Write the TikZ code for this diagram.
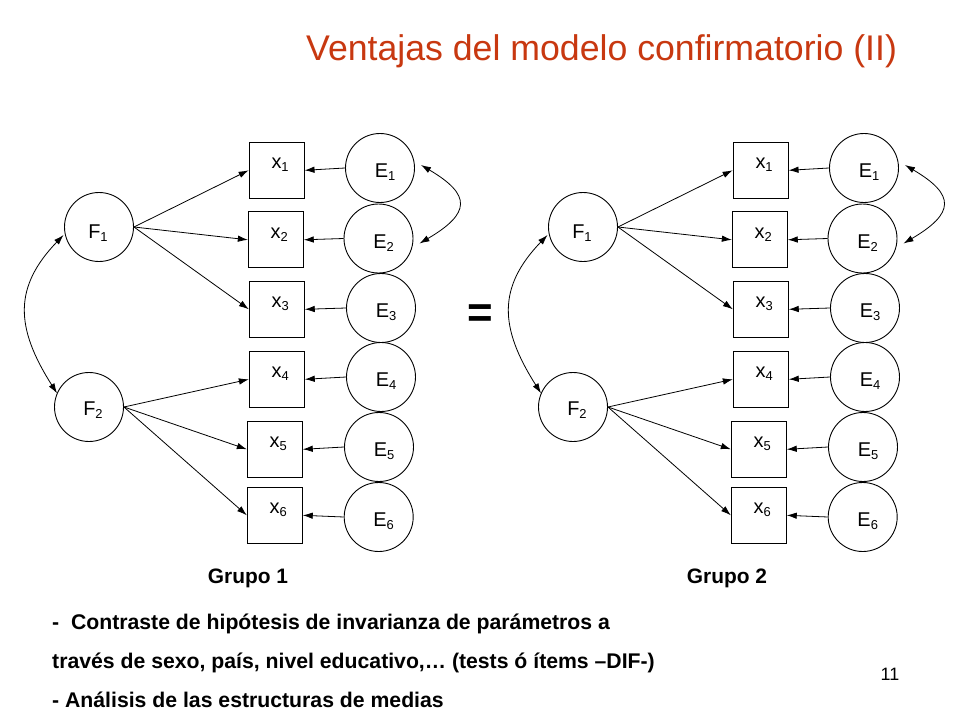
\documentclass[tikz,border=0pt]{standalone}
\usepackage{fontspec}
\setmainfont{Liberation Sans}
\usetikzlibrary{arrows.meta}
\definecolor{titlered}{RGB}{200,56,16}
\newcommand\lsub[1]{\raisebox{-3bp}{\fontsize{13}{13}\selectfont #1}}
\begin{document}
\begin{tikzpicture}[x=1bp,y=-1bp,
  lat/.style={circle,draw,line width=0.9bp,minimum size=69bp,inner sep=0pt},
  obs/.style={rectangle,draw,line width=0.9bp,minimum width=55bp,minimum height=56bp,inner sep=0pt},
  lbl/.style={inner sep=0pt,anchor=base,font=\fontsize{20}{20}\selectfont},
  arr/.style={-{Latex[length=10bp,width=6.5bp]},line width=0.8bp},
  dbl/.style={{Latex[length=10bp,width=6.5bp]}-{Latex[length=10bp,width=6.5bp]},line width=0.8bp},
  boldtxt/.style={inner sep=0pt,anchor=base west,font=\bfseries\fontsize{21.3}{21.3}\selectfont}]
\useasboundingbox (0,0) rectangle (960,720);
\fill[white] (0,0) rectangle (960,720);

% title
\node[inner sep=0pt,anchor=base west,text=titlered,font=\fontsize{35.8}{36}\selectfont] (title) at (306,61) {Ventajas del modelo confirmatorio (II)};

\foreach \g/\dx in {a/0,b/484}{
  % factors
  \node[lat] (\g F1) at (99+\dx,227) {};
  \node[lat] (\g F2) at (89+\dx,407) {};
  \node[lbl] (\g tF1) at (98+\dx,238) {F\lsub{1}};
  \node[lbl] (\g tF2) at (93+\dx,415) {F\lsub{2}};
  % observed
  \foreach \i/\bx/\by in {1/276.6/170.3,2/275.8/239.8,3/276.8/309.3,4/276.8/379.3,5/274.8/449.3,6/274.8/515.3}{
    \node[obs] (\g x\i) at (\bx+\dx,\by) {};
    \node[lbl] (\g tx\i) at (\bx+\dx+3.5,\by-1.5) {x\lsub{\i}};
  }
  % errors
  \foreach \i/\ex/\ey in {1/380/168,2/378.5/238.5,3/381/308,4/381/377,5/379/447,6/378.7/517}{
    \node[lat] (\g E\i) at (\ex+\dx,\ey) {};
    \node[lbl] (\g tE\i) at (\ex+\dx+5,\ey+9.5) {E\lsub{\i}};
    \draw[arr] (\g E\i.west) -- (\g x\i.east);
  }
  % loadings
  \foreach \i in {1,2,3}{\draw[arr] (\g F1.east) -- (\g x\i.west);}
  \foreach \i in {4,5,6}{\draw[arr] (\g F2.east) -- (\g x\i.west);}
  % covariances
  \draw[dbl] ([shift={(6,-3)}]\g E1.east) .. controls +(51,30) and +(51,-30) .. ([shift={(6,5)}]\g E2.east);
  \draw[dbl] ([shift={(-0.5,8)}]\g F1.west) .. controls +(-50,52) and +(-42,-66) .. ([shift={(3,-13.7)}]\g F2.west);
}

\node[inner sep=0pt,anchor=base,font=\bfseries\fontsize{44}{44}\selectfont] (eq) at (480,327) {=};

\node[inner sep=0pt,anchor=base,font=\bfseries\fontsize{21}{21}\selectfont] (g1) at (248,583) {Grupo 1};
\node[inner sep=0pt,anchor=base,font=\bfseries\fontsize{21}{21}\selectfont] (g2) at (727,583) {Grupo 2};

\node[boldtxt] (l1) at (52,629) {- \ Contraste de hipótesis de invarianza de parámetros a};
\node[boldtxt] (l2) at (52,668) {través de sexo, país, nivel educativo,… (tests ó ítems –DIF-)};
\node[boldtxt] (l3) at (52,707) {- Análisis de las estructuras de medias};

\node[inner sep=0pt,anchor=base,font=\fontsize{18}{18}\selectfont] (pg) at (890,680) {11};
\end{tikzpicture}
\end{document}
